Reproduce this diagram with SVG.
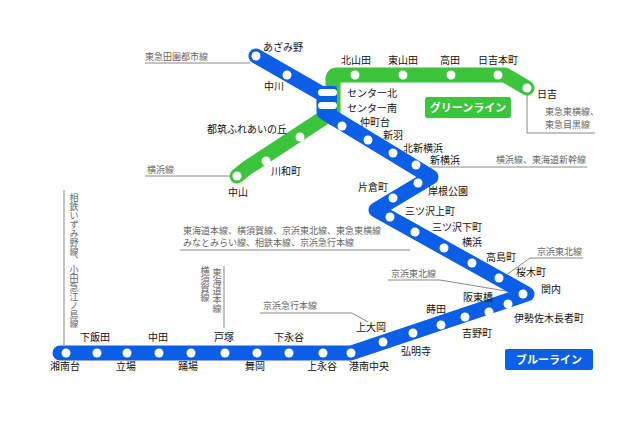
<svg xmlns="http://www.w3.org/2000/svg" width="640" height="426" viewBox="0 0 640 426">
<style>
.bl{fill:none;stroke:#0b5fe6;stroke-width:15;stroke-linejoin:round;stroke-linecap:round}
.gl{fill:none;stroke:#3cc43c;stroke-width:15;stroke-linejoin:round;stroke-linecap:round}
.st{fill:#fff}
.t{font-family:"Noto Sans CJK JP",sans-serif;font-size:10px;fill:#111}
.g{font-family:"Noto Sans CJK JP",sans-serif;font-size:9px;fill:#666}
.v{writing-mode:vertical-rl;text-orientation:upright}
.ld{fill:none;stroke:#888;stroke-width:1}
.lg{font-family:"Noto Sans CJK JP",sans-serif;font-size:11px;font-weight:bold;fill:#fff}
</style>
<rect width="640" height="426" fill="#fff"/>
<g id="connectors">
<path class="ld" d="M145 63H250"/>
<path class="ld" d="M145 176H232"/>
<path class="ld" d="M527 95V133H595"/>
<path class="ld" d="M430 167H587"/>
<path class="ld" d="M180 250H410"/>
<path class="ld" d="M64 190V345"/>
<path class="ld" d="M224 266V328"/>
<path class="ld" d="M260 313H352L368 322"/>
<path class="ld" d="M388 280H440L512 292"/>
<path class="ld" d="M583 258H530L505 276"/>
</g>
<g id="green-line">
<path class="gl" d="M237 176L247 168L325 117"/>
<path class="gl" d="M333 118V79Q333 75 337 75H505L527 88"/>
</g>
<g id="blue-line">
<path class="bl" d="M256 56L324 95L324 112L431 177L376 210L527 294L351 353H60"/>
<rect x="317" y="86" width="20" height="26" rx="3" fill="#0b5fe6"/>
</g>
<g id="stations" class="st">
<circle cx="256" cy="56" r="4.5"/><circle cx="287" cy="75" r="4.5"/>
<rect x="318" y="89" width="19" height="7" rx="3.5"/><rect x="318" y="102" width="19" height="7" rx="3.5"/>
<circle cx="342" cy="126" r="4.5"/><circle cx="368" cy="140" r="4.5"/><circle cx="393" cy="153" r="4.5"/><circle cx="416" cy="165" r="4.5"/>
<circle cx="418" cy="183" r="4.5"/><circle cx="393" cy="198" r="4.5"/><circle cx="390" cy="217" r="4.5"/><circle cx="415" cy="232" r="4.5"/>
<circle cx="444" cy="248" r="4.5"/><circle cx="472" cy="263" r="4.5"/><circle cx="499" cy="278" r="4.5"/><circle cx="523" cy="294" r="4.5"/>
<circle cx="508" cy="304" r="4.5"/><circle cx="489" cy="312" r="4.5"/><circle cx="465" cy="317" r="4.5"/><circle cx="441" cy="325" r="4.5"/>
<circle cx="413" cy="333" r="4.5"/><circle cx="383" cy="342" r="4.5"/><circle cx="351" cy="353" r="4.5"/>
<circle cx="323" cy="353" r="4.5"/><circle cx="289" cy="353" r="4.5"/><circle cx="257" cy="353" r="4.5"/><circle cx="225" cy="353" r="4.5"/>
<circle cx="191" cy="353" r="4.5"/><circle cx="159" cy="353" r="4.5"/><circle cx="127" cy="353" r="4.5"/><circle cx="97" cy="353" r="4.5"/><circle cx="66" cy="353" r="4.5"/>
<circle cx="237" cy="176" r="4.5"/><circle cx="266" cy="161" r="4.5"/><circle cx="300" cy="137" r="4.5"/>
<circle cx="355" cy="75" r="4.5"/><circle cx="403" cy="75" r="4.5"/><circle cx="451" cy="75" r="4.5"/><circle cx="498" cy="75" r="4.5"/><circle cx="527" cy="88" r="4.5"/>
</g>
<g id="labels">
<text class="t" x="263" y="51">あざみ野</text><text class="t" x="264" y="90">中川</text>
<text class="t" x="347" y="97">センター北</text><text class="t" x="347" y="112">センター南</text>
<text class="t" x="360" y="126">仲町台</text><text class="t" x="383" y="139">新羽</text>
<text class="t" x="403" y="152">北新横浜</text><text class="t" x="430" y="164">新横浜</text>
<text class="t" x="428" y="195">岸根公園</text><text class="t" x="358" y="191">片倉町</text>
<text class="t" x="405" y="215">三ツ沢上町</text><text class="t" x="432" y="231">三ツ沢下町</text>
<text class="t" x="462" y="246">横浜</text><text class="t" x="486" y="261">高島町</text>
<text class="t" x="516" y="276">桜木町</text><text class="t" x="541" y="293">関内</text>
<text class="t" x="514" y="322">伊勢佐木長者町</text><text class="t" x="463" y="301">阪東橋</text>
<text class="t" x="462" y="337">吉野町</text><text class="t" x="426" y="313">蒔田</text>
<text class="t" x="401" y="355">弘明寺</text><text class="t" x="356" y="331">上大岡</text>
<text class="t" x="349" y="370">港南中央</text><text class="t" x="307" y="370">上永谷</text>
<text class="t" x="274" y="341">下永谷</text><text class="t" x="245" y="370">舞岡</text>
<text class="t" x="214" y="341">戸塚</text><text class="t" x="178" y="370">踊場</text>
<text class="t" x="148" y="341">中田</text><text class="t" x="116" y="370">立場</text>
<text class="t" x="80" y="341">下飯田</text><text class="t" x="50" y="370">湘南台</text>
<text class="t" x="228" y="196">中山</text><text class="t" x="271" y="175">川和町</text>
<text class="t" x="207" y="133">都筑ふれあいの丘</text>
<text class="t" x="341" y="64">北山田</text><text class="t" x="388" y="64">東山田</text>
<text class="t" x="440" y="64">高田</text><text class="t" x="478" y="64">日吉本町</text>
<text class="t" x="537" y="98">日吉</text>
</g>
<g id="line-notes">
<text class="g" x="145" y="60">東急田園都市線</text>
<text class="g" x="147" y="173">横浜線</text>
<text class="g" x="545" y="115">東急東横線、</text><text class="g" x="545" y="128">東急目黒線</text>
<text class="g" x="496" y="163">横浜線、東海道新幹線</text>
<text class="g" x="183" y="234">東海道本線、横須賀線、京浜東北線、東急東横線</text>
<text class="g" x="183" y="246">みなとみらい線、相鉄本線、京浜急行本線</text>
<text class="g" x="263" y="309">京浜急行本線</text>
<text class="g" x="391" y="277">京浜東北線</text>
<text class="g" x="537" y="255">京浜東北線</text>
<text class="g v" x="74" y="193">相鉄いずみ野線、小田急江ノ島線</text>
<text class="g v" x="217" y="268">東海道本線</text>
<text class="g v" x="205" y="266">横須賀線</text>
</g>
<g id="legend-green"><rect x="425" y="97" width="86" height="21" rx="2" fill="#3cc43c"/><text class="lg" x="468" y="111.5" text-anchor="middle">グリーンライン</text></g>
<g id="legend-blue"><rect x="505" y="349" width="88" height="21" rx="2" fill="#0b5fe6"/><text class="lg" x="549" y="363.5" text-anchor="middle">ブルーライン</text></g>
</svg>
